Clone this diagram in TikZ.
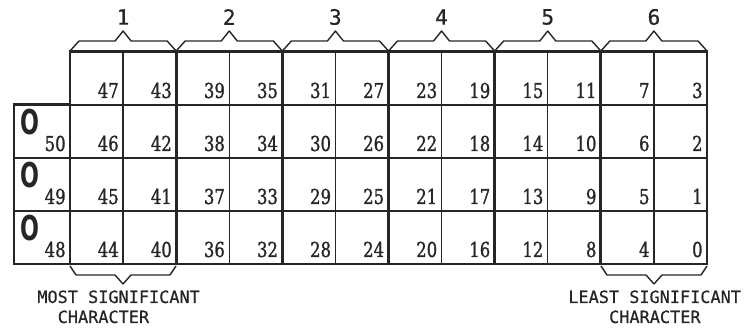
\documentclass[tikz,border=0pt]{standalone}
\usepackage{fontspec}
\usepackage{tikz}
\usetikzlibrary{calc, positioning}
\newfontfamily\cellfont[FakeStretch=0.8, FakeBold=1.2]{DejaVu Serif}
\newfontfamily\letterfont[FakeBold=0.6]{DejaVu Sans Mono}
\newfontfamily\holefont[FakeStretch=0.65]{DejaVu Sans}

\begin{document}
\begin{tikzpicture}[x=0.02cm, y=-0.02cm, black!85,
  thinrule/.style={line width=0.8pt},
  rowrule/.style={line width=1.1pt},
  boldrule/.style={line width=1.7pt},
  bracket/.style={line width=0.8pt, line join=round},
  cellnum/.style={anchor=base east, inner sep=0pt, font=\cellfont\fontsize{11.7}{12}\selectfont},
  hole/.style={anchor=north west, inner sep=0pt, font=\holefont\bfseries\fontsize{19.5}{20}\selectfont},
  letters/.style={anchor=base west, inner sep=0pt, font=\letterfont\fontsize{9.6}{12}\selectfont}]
  \useasboundingbox (0,0) rectangle (752,330);
  % the grid
  \foreach \c in {1,3,...,11}
    \draw[thinrule] ({70+53.08*\c},52) -- ({70+53.08*\c},264);
  \foreach \r in {105,158,211}
    \draw[rowrule] (14,\r) -- (707,\r);
  \foreach \c in {2,4,...,10}
    \draw[boldrule] ({70+53.08*\c},52) -- ({70+53.08*\c},264);
  \draw[boldrule] (70,52) rectangle (707,264);
  \draw[boldrule] (70,105) -- (14,105) -- (14,264) -- (70,264);
  % bit numbers
  \foreach \c in {0,...,11}
    \foreach \r in {0,...,3}{
      \pgfmathtruncatemacro{\n}{47-4*\c-\r}
      \node[cellnum] (bit\n) at ({70+53.08*(\c+1)-4},{52+53*(\r+1)-7}) {\n};
    }
  \foreach \r in {1,2,3}{
    \pgfmathtruncatemacro{\n}{51-\r}
    \node[cellnum] (bit\n) at (66,{52+53*(\r+1)-7}) {\n};
    \node[hole] (hole\n) at (20,{52+53*\r+4}) {O};
  }
  % characters 1 to 6
  \foreach \g in {1,...,6}{
    \pgfmathsetmacro{\xl}{70+106.17*(\g-1)}
    \pgfmathsetmacro{\xr}{\xl+106.17}
    \pgfmathsetmacro{\xm}{\xl+53.08}
    \draw[bracket] (\xl,51) -- ({\xl+9},41) -- ({\xm-8},41) -- (\xm,31)
      -- ({\xm+8},41) -- ({\xr-9},41) -- (\xr,51);
    \node[font=\letterfont\fontsize{12}{14}\selectfont] (char\g) at (\xm,17) {\g};
  }
  \draw[bracket] (70,266) -- (76,275) -- (115,275) -- (123,284) -- (131,275)
    -- (170,275) -- (176,266);
  \draw[bracket] (601,266) -- (607,275) -- (646,275) -- (654,284) -- (662,275)
    -- (701,275) -- (707,266);
  \node[letters] (mostsig) at (37,303) {MOST SIGNIFICANT};
  \node[letters] (mostchar) at ($(mostsig.base west)+(20.4,20)$) {CHARACTER};
  \node[letters] (leastsig) at (568,303) {LEAST SIGNIFICANT};
  \node[letters] (leastchar) at ($(leastsig.base west)+(40.8,20)$) {CHARACTER};
\end{tikzpicture}
\end{document}
